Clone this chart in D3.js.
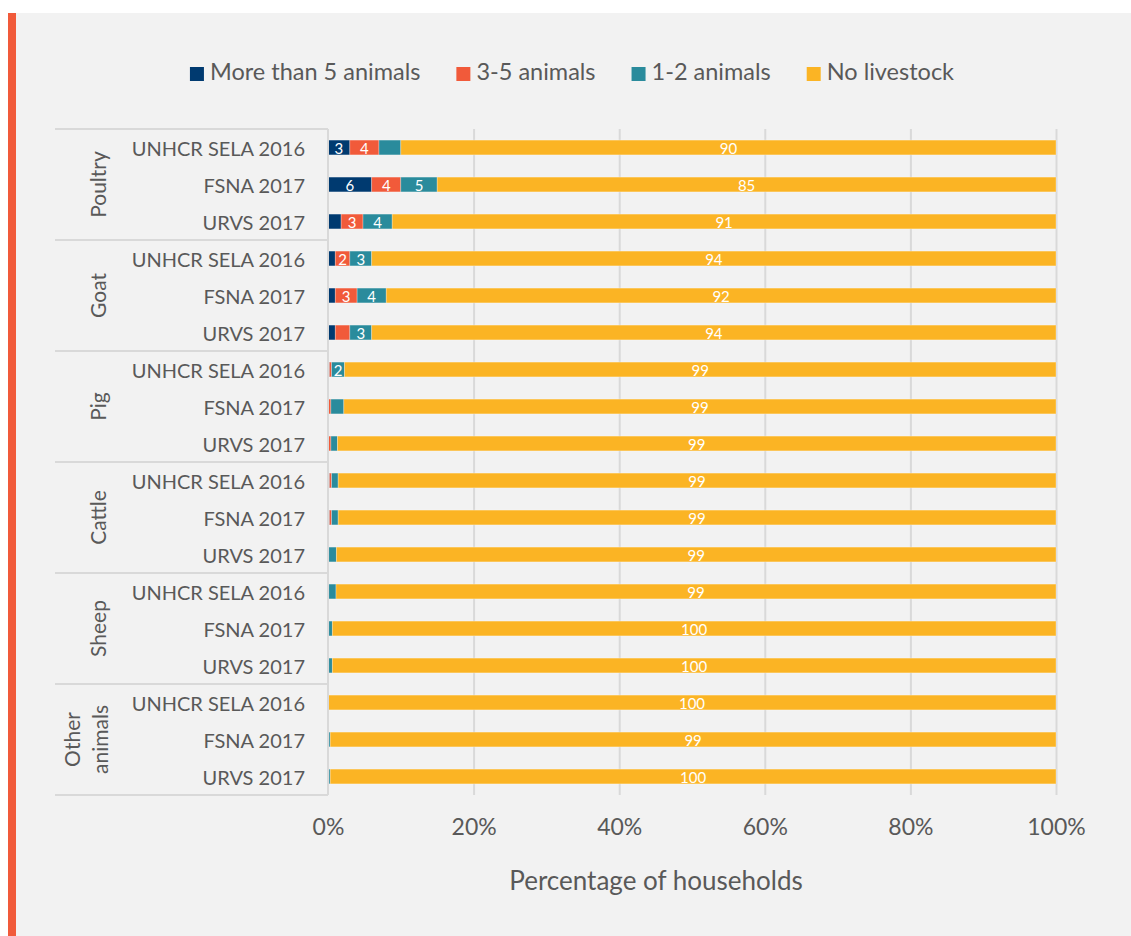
<!DOCTYPE html>
<html>
<head>
<meta charset="utf-8">
<script src="https://cdn.jsdelivr.net/npm/d3@7"></script>
<style>
  body { margin: 0; background: #fff; }
  text { font-family: Lato, "Open Sans", sans-serif; fill: #595959; }
</style>
</head>
<body>
<div id="chart"></div>
<script>
// Data
const groups = ["Poultry", "Goat", "Pig", "Cattle", "Sheep", "Other animals"];
const sources = ["UNHCR SELA 2016", "FSNA 2017", "URVS 2017"];
const seriesNames = ["More than 5 animals", "3-5 animals", "1-2 animals", "No livestock"];
const seriesColors = ["#003a70", "#f15a3a", "#2a8b9c", "#fbb424"];

// one value per row, rows go group by group, sources in the order above
const moreThan5 = [3, 6, 1.8, 1, 1, 1, 0.2, 0, 0, 0.2, 0.2, 0, 0, 0, 0, 0, 0, 0];
const threeToFive = [4, 4, 3, 2, 3, 2, 0.3, 0.4, 0.4, 0.3, 0.3, 0.1, 0.1, 0.1, 0.1, 0, 0.1, 0.1];
const oneToTwo = [3, 5, 4, 3, 4, 3, 1.8, 1.8, 0.9, 0.9, 0.9, 1.05, 1, 0.5, 0.5, 0, 0.2, 0.2];
const noLivestock = [90, 85, 91, 94, 92, 94, 99, 99, 99, 99, 99, 99, 99, 100, 100, 100, 99.4, 99.6];

// rows whose segment carries a data label
const labelledRows = [
  [0, 1],
  [0, 1, 2, 3, 4],
  [1, 2, 3, 4, 5, 6],
  d3.range(18)
];

const xTicks = [0, 0.2, 0.4, 0.6, 0.8, 1];
const xTitle = "Percentage of households";

const rows = [];
groups.forEach((g, gi) => {
  sources.forEach((s, si) => {
    const i = gi * sources.length + si;
    rows.push({
      id: i, group: g, source: s,
      s0: moreThan5[i], s1: threeToFive[i], s2: oneToTwo[i], s3: noLivestock[i]
    });
  });
});
const keys = ["s0", "s1", "s2", "s3"];

// Dimensions
const width = 1131, height = 936;
const plot = { left: 328, right: 1056, top: 129, bottom: 795 };

const svg = d3.select("#chart").append("svg")
  .attr("width", width)
  .attr("height", height);

// panel
svg.append("rect").attr("x", 16).attr("y", 13)
  .attr("width", width - 16).attr("height", height - 13)
  .attr("fill", "#f2f2f2");
svg.append("rect").attr("x", 8).attr("y", 13)
  .attr("width", 8).attr("height", height - 13)
  .attr("fill", "#f15a3a");

// Scales
const xScale = d3.scaleLinear().domain([0, 1]).range([plot.left, plot.right]);
const yScale = d3.scaleBand()
  .domain(rows.map(d => d.id))
  .range([plot.top, plot.bottom])
  .paddingInner(0.6)
  .paddingOuter(0.3);

// gridlines
const grid = d3.axisBottom(xScale)
  .tickValues(xTicks.slice(1))
  .tickSize(-(plot.bottom - plot.top))
  .tickFormat("");
svg.append("g")
  .attr("transform", `translate(0, ${plot.bottom})`)
  .call(grid)
  .call(g => g.select(".domain").remove())
  .call(g => g.selectAll("line").attr("stroke", "#d9d9d9").attr("stroke-width", 2));

// Stack
const stack = d3.stack().keys(keys).offset(d3.stackOffsetExpand);
const stacked = stack(rows);

const layers = svg.append("g").selectAll("g")
  .data(stacked)
  .join("g")
  .attr("fill", (d, i) => seriesColors[i]);

layers.selectAll("rect")
  .data(d => d)
  .join("rect")
  .attr("x", d => xScale(d[0]))
  .attr("y", d => yScale(d.data.id))
  .attr("width", d => Math.max(0, xScale(d[1]) - xScale(d[0])))
  .attr("height", yScale.bandwidth())
  .attr("stroke", "rgba(255,255,255,0.35)")
  .attr("stroke-width", 0.8);

// data labels
layers.each(function(layer, li) {
  d3.select(this).selectAll("text")
    .data(layer.filter(d => labelledRows[li].includes(d.data.id)))
    .join("text")
    .attr("x", d => (xScale(d[0]) + xScale(d[1])) / 2)
    .attr("y", d => yScale(d.data.id) + yScale.bandwidth() / 2)
    .attr("text-anchor", "middle")
    .attr("dominant-baseline", "central")
    .style("fill", "#fff")
    .style("font-size", "15px")
    .text(d => Math.round(d.data[keys[li]]));
});

// category axis line
svg.append("line")
  .attr("x1", plot.left).attr("x2", plot.left)
  .attr("y1", plot.top).attr("y2", plot.bottom)
  .attr("stroke", "#d9d9d9").attr("stroke-width", 2);

// group separators
const groupBounds = groups.map((g, gi) => yScale(gi * 3) - yScale.step() * yScale.paddingInner() / 2);
groupBounds[0] = plot.top;
groupBounds.push(plot.bottom);
svg.append("g").selectAll("line")
  .data(groupBounds)
  .join("line")
  .attr("x1", 55).attr("x2", plot.left)
  .attr("y1", d => d).attr("y2", d => d)
  .attr("stroke", "#d9d9d9").attr("stroke-width", 2);

// source labels
svg.append("g").selectAll("text")
  .data(rows)
  .join("text")
  .attr("x", 305)
  .attr("y", d => yScale(d.id) + yScale.bandwidth() / 2)
  .attr("text-anchor", "end")
  .attr("dominant-baseline", "central")
  .style("font-size", "20px")
  .text(d => d.source);

// group labels
groups.forEach((g, gi) => {
  const yc = (groupBounds[gi] + groupBounds[gi + 1]) / 2;
  const lines = g.split(" ");
  const xc = lines.length > 1 ? 85 : 97;
  const t = svg.append("text")
    .attr("transform", `translate(${xc}, ${yc}) rotate(-90)`)
    .attr("text-anchor", "middle")
    .style("font-size", "21px");
  lines.forEach((l, li) => {
    t.append("tspan")
      .attr("x", 0)
      .attr("y", (li - (lines.length - 1) / 2) * 28)
      .attr("dominant-baseline", "central")
      .text(l);
  });
});

// x axis
const xAxis = d3.axisBottom(xScale)
  .tickValues(xTicks)
  .tickFormat(d3.format(".0%"))
  .tickSize(0)
  .tickPadding(0);
svg.append("g")
  .attr("transform", `translate(0, ${plot.bottom})`)
  .call(xAxis)
  .call(g => g.select(".domain").remove())
  .call(g => g.selectAll("text")
    .attr("y", 40)
    .attr("dy", null)
    .style("font-size", "23px")
    .style("fill", "#595959"));

svg.append("text")
  .attr("x", 656)
  .attr("y", 890)
  .attr("text-anchor", "middle")
  .style("font-size", "26px")
  .text(xTitle);

// Legend
const legend = svg.append("g");
const items = legend.selectAll("g")
  .data(seriesNames)
  .join("g");
items.append("rect")
  .attr("width", 14).attr("height", 14)
  .attr("y", -13)
  .attr("fill", (d, i) => seriesColors[i]);
items.append("text")
  .attr("x", 20)
  .style("font-size", "23.5px")
  .text(d => d);
let pos = 0;
items.each(function() {
  const w = d3.select(this).select("text").node().getComputedTextLength();
  d3.select(this).attr("transform", `translate(${pos}, 0)`);
  pos += 20 + w + 36;
});
const legendWidth = pos - 36;
legend.attr("transform", `translate(${572 - legendWidth / 2}, 80)`);
</script>
</body>
</html>
